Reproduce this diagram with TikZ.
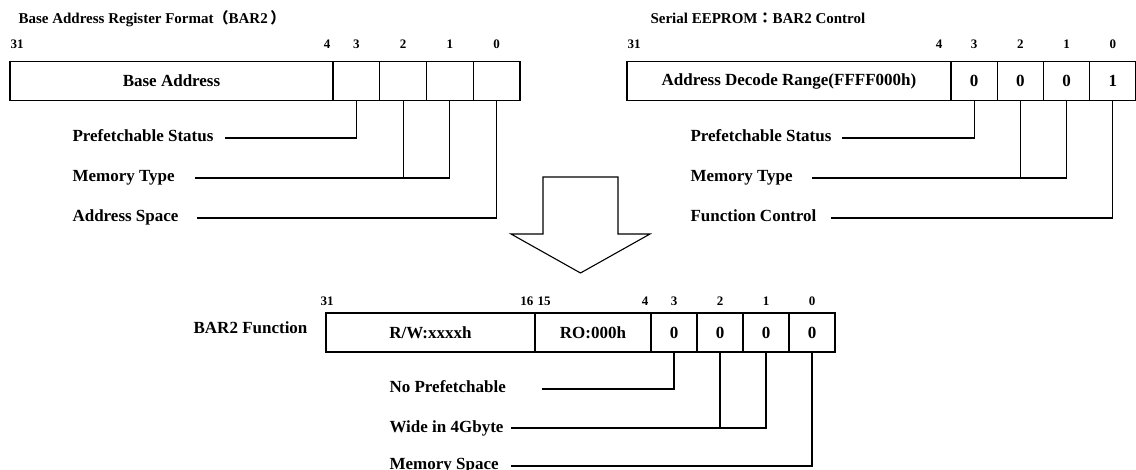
\documentclass[tikz,border=0pt]{standalone}
\usepackage{fontspec}
\setmainfont{Liberation Serif}
\newfontfamily\cjk{Noto Sans CJK JP}
\usetikzlibrary{positioning}

\begin{document}
\begin{tikzpicture}[x=1pt, y=-1pt, line width=1.1pt,
    regcell/.style={draw, rectangle, minimum height=39pt, inner sep=0pt, outer sep=0pt, font=\bfseries\fontsize{17}{20}\selectfont},
    bitnum/.style={anchor=base, inner sep=0pt, font=\bfseries\fontsize{13}{15}\selectfont},
    fieldlabel/.style={anchor=base west, inner sep=0pt, font=\bfseries\fontsize{17}{20}\selectfont},
    regtitle/.style={anchor=base west, inner sep=0pt, font=\bfseries\fontsize{15}{18}\selectfont}]

    \useasboundingbox (0,0) rectangle (1136,470);

    % Base address register format
    \node [regtitle] (ltitle) at (18,24) {Base Address Register Format{\cjk （}BAR2\,{\cjk ）}};
    \node [regcell, minimum width=323pt, anchor=north west] (lbase) at (10,61.5) {Base Address};
    \node [regcell, minimum width=46.75pt, right=0pt of lbase] (lb3) {};
    \node [regcell, minimum width=46.75pt, right=0pt of lb3] (lb2) {};
    \node [regcell, minimum width=46.75pt, right=0pt of lb2] (lb1) {};
    \node [regcell, minimum width=46.75pt, right=0pt of lb1] (lb0) {};

    \node [bitnum, anchor=base west] (l31) at ([yshift=12.5pt]lbase.north west) {31};
    \node [bitnum, anchor=base east] (l4) at ([xshift=-2pt, yshift=12.5pt]lbase.north east) {4};
    \node [bitnum] (l3) at ([yshift=12.5pt]lb3.north) {3};
    \node [bitnum] (l2) at ([yshift=12.5pt]lb2.north) {2};
    \node [bitnum] (l1) at ([yshift=12.5pt]lb1.north) {1};
    \node [bitnum] (l0) at ([yshift=12.5pt]lb0.north) {0};

    \node [fieldlabel] (lps) at (72,142) {Prefetchable Status};
    \node [fieldlabel] (lmt) at (72,182) {Memory Type};
    \node [fieldlabel] (las) at (72,222) {Address Space};
    \coordinate (lps_end) at (225,138);
    \coordinate (lmt_end) at (195,178);
    \coordinate (las_end) at (197,218);

    % Serial EEPROM control
    \node [regtitle] (rtitle) at (650,24) {Serial EEPROM{\cjk ：}BAR2 Control};
    \node [regcell, minimum width=324pt, anchor=north west] (rbase) at (627,61.5) {Address Decode Range(FFFF000h)};
    \node [regcell, minimum width=46.25pt, right=0pt of rbase] (rb3) {0};
    \node [regcell, minimum width=46.25pt, right=0pt of rb3] (rb2) {0};
    \node [regcell, minimum width=46.25pt, right=0pt of rb2] (rb1) {0};
    \node [regcell, minimum width=46.25pt, right=0pt of rb1] (rb0) {1};

    \node [bitnum, anchor=base west] (r31) at ([yshift=12.5pt]rbase.north west) {31};
    \node [bitnum, anchor=base east] (r4) at ([xshift=-8pt, yshift=12.5pt]rbase.north east) {4};
    \node [bitnum] (r3) at ([yshift=12.5pt]rb3.north) {3};
    \node [bitnum] (r2) at ([yshift=12.5pt]rb2.north) {2};
    \node [bitnum] (r1) at ([yshift=12.5pt]rb1.north) {1};
    \node [bitnum] (r0) at ([yshift=12.5pt]rb0.north) {0};

    \node [fieldlabel] (rps) at (690,142) {Prefetchable Status};
    \node [fieldlabel] (rmt) at (690,182) {Memory Type};
    \node [fieldlabel] (rfc) at (690,222) {Function Control};
    \coordinate (rps_end) at (842,138);
    \coordinate (rmt_end) at (812,178);
    \coordinate (rfc_end) at (831,218);

    % BAR2 function
    \node [regcell, minimum width=209pt, anchor=north west] (bhi) at (326,313) {R/W:xxxxh};
    \node [regcell, minimum width=116pt, right=0pt of bhi] (blo) {RO:000h};
    \node [regcell, minimum width=46pt, right=0pt of blo] (bb3) {0};
    \node [regcell, minimum width=46pt, right=0pt of bb3] (bb2) {0};
    \node [regcell, minimum width=46pt, right=0pt of bb2] (bb1) {0};
    \node [regcell, minimum width=46pt, right=0pt of bb1] (bb0) {0};
    \node [fieldlabel, anchor=base east] (bname) at ([xshift=-18pt, yshift=-1.5pt]bhi.west) {BAR2 Function};

    \node [bitnum, anchor=base west] (b31) at ([xshift=-6pt, yshift=7pt]bhi.north west) {31};
    \node [bitnum, anchor=base east] (b16) at ([xshift=-1pt, yshift=7pt]blo.north west) {16};
    \node [bitnum, anchor=base west] (b15) at ([xshift=2pt, yshift=7pt]blo.north west) {15};
    \node [bitnum, anchor=base east] (b4) at ([xshift=-2pt, yshift=7pt]blo.north east) {4};
    \node [bitnum] (b3) at ([yshift=7pt]bb3.north) {3};
    \node [bitnum] (b2) at ([yshift=7pt]bb2.north) {2};
    \node [bitnum] (b1) at ([yshift=7pt]bb1.north) {1};
    \node [bitnum] (b0) at ([yshift=7pt]bb0.north) {0};

    \node [fieldlabel] (bnp) at (389,393) {No Prefetchable};
    \node [fieldlabel] (bwg) at (389,432) {Wide in 4Gbyte};
    \node [fieldlabel] (bms) at (389,469) {Memory Space};
    \coordinate (bnp_end) at (542,389);
    \coordinate (bwg_end) at (511,428);
    \coordinate (bms_end) at (511,466);

    % Lines
    \draw (lb3.south) |- (lps_end);
    \draw (lb1.south) |- (lmt_end);
    \draw (lb2.south) -- (lb2.south |- lmt_end);
    \draw (lb0.south) |- (las_end);

    \draw (rb3.south) |- (rps_end);
    \draw (rb1.south) |- (rmt_end);
    \draw (rb2.south) -- (rb2.south |- rmt_end);
    \draw (rb0.south) |- (rfc_end);

    \draw (bb3.south) |- (bnp_end);
    \draw (bb1.south) |- (bwg_end);
    \draw (bb2.south) -- (bb2.south |- bwg_end);
    \draw (bb0.south) |- (bms_end);

    % Big arrow
    \draw [line join=miter] (543,177) -- (618,177) -- (618,234) -- (650,234) -- (580.5,273)
        -- (511,234) -- (543,234) -- cycle;
\end{tikzpicture}
\end{document}
